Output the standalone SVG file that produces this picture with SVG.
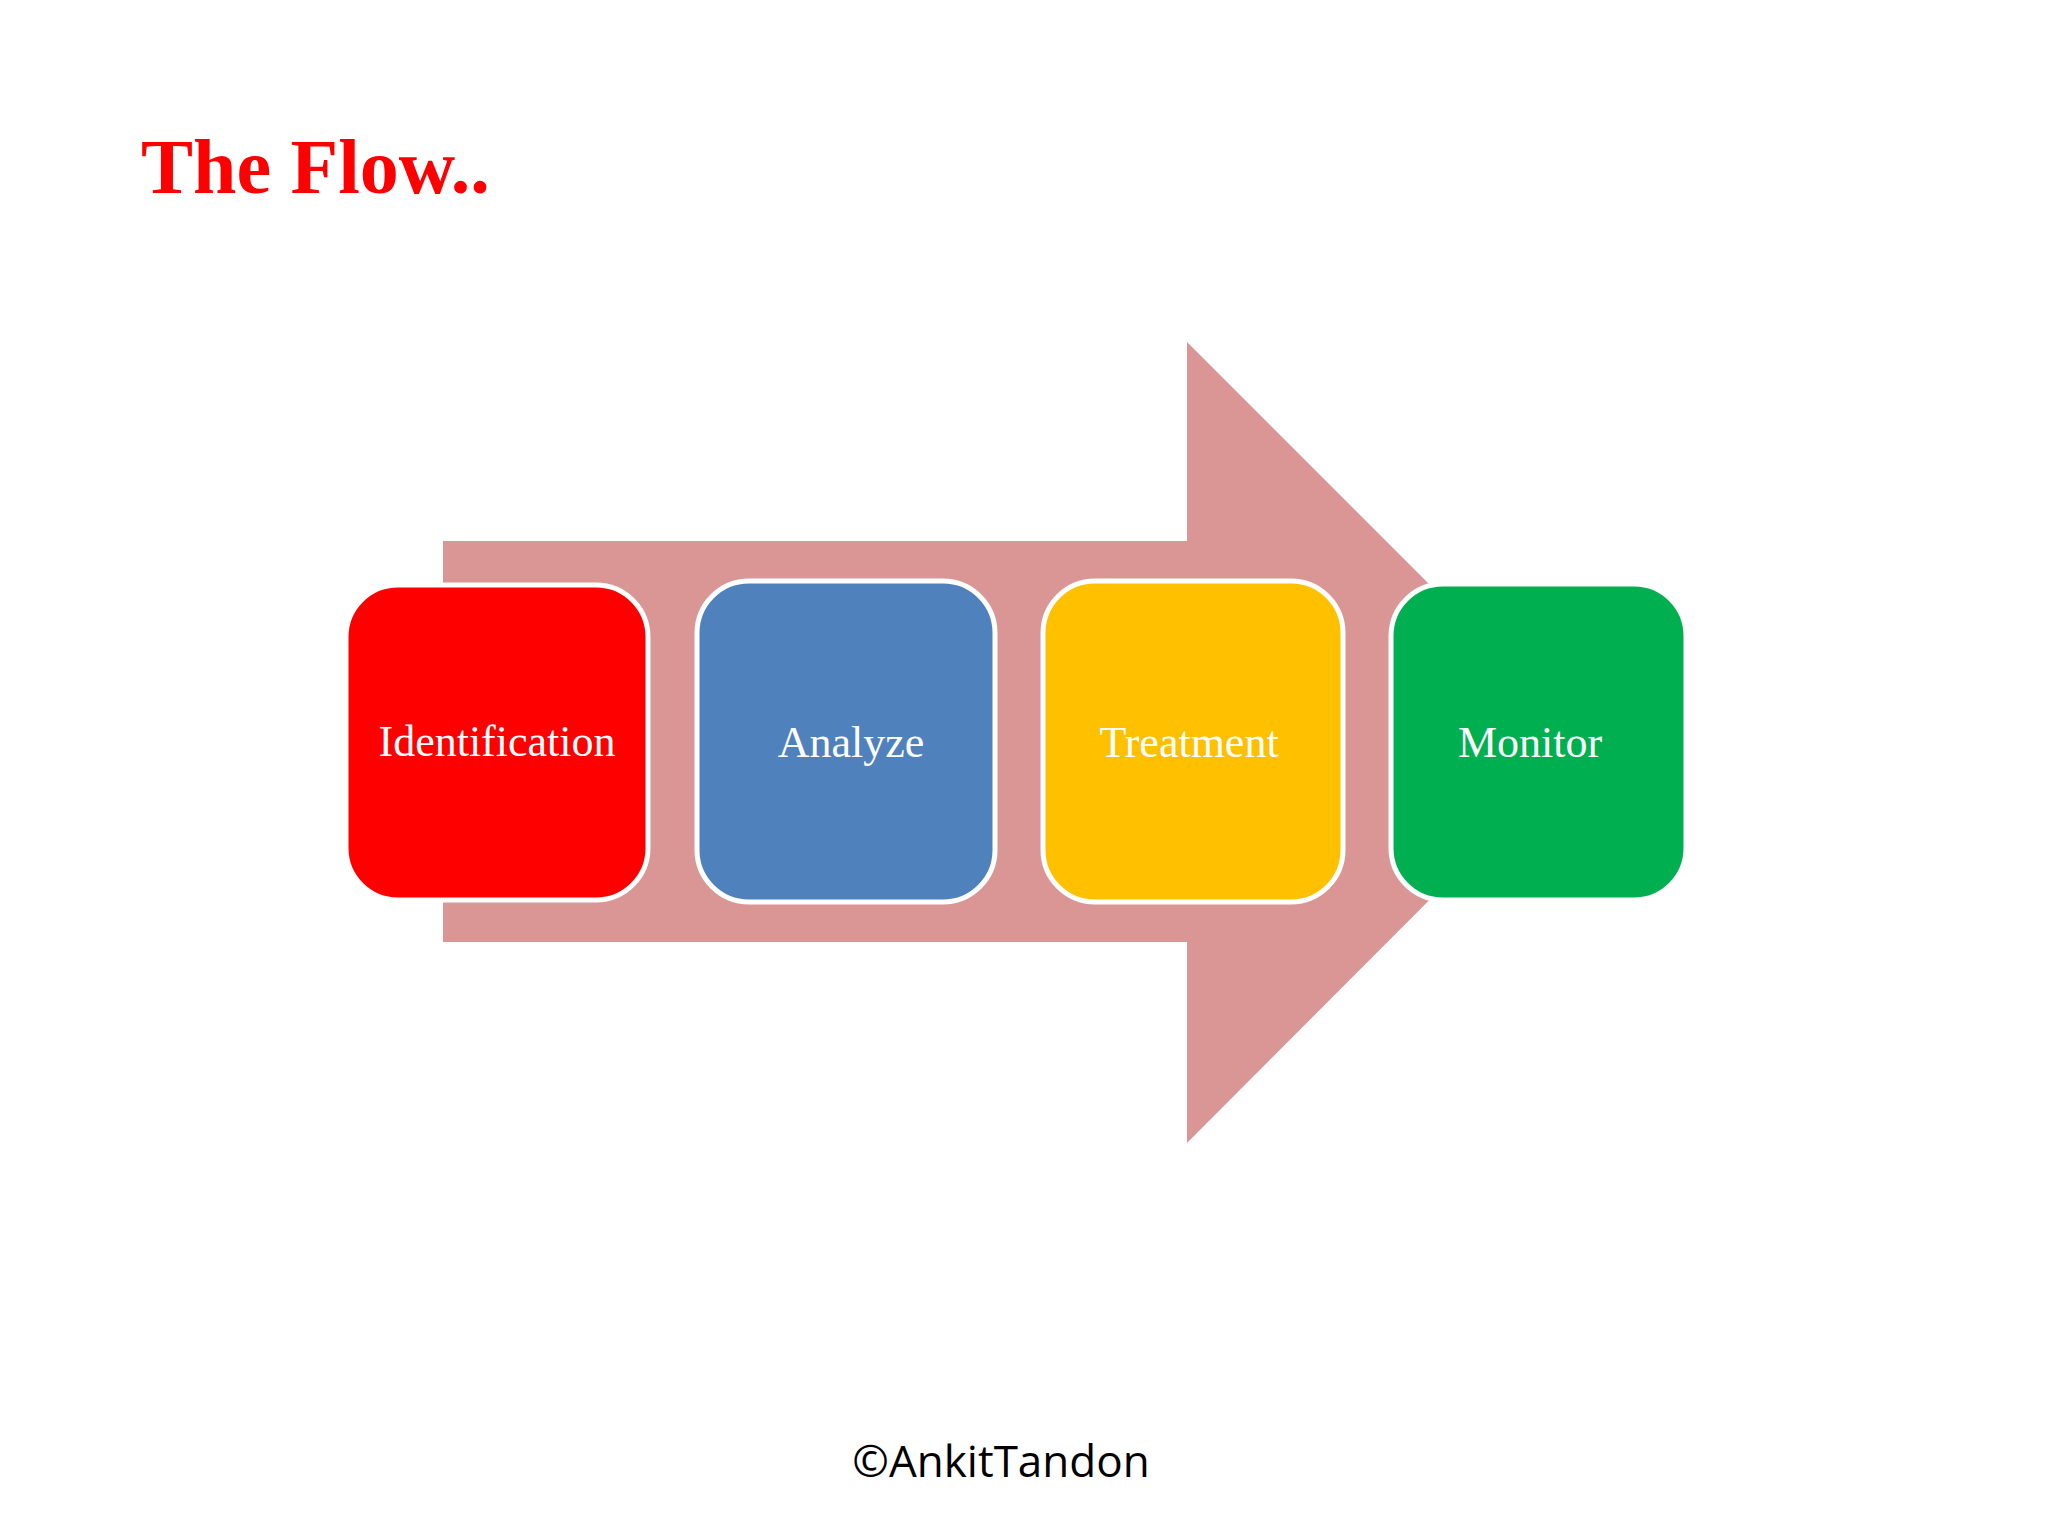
<svg xmlns="http://www.w3.org/2000/svg" width="2048" height="1536" viewBox="0 0 2048 1536">
<style>
.box{stroke:#fff;stroke-width:5}
.lbl{font-family:"Liberation Serif",serif;font-size:44px;fill:#fff;text-anchor:middle}
</style>
<rect width="2048" height="1536" fill="#fff"/>
<text x="141" y="193" font-family="Liberation Serif,serif" font-weight="bold" font-size="78" fill="#ff0000">The Flow..</text>
<g id="connectors">
<polygon points="443,541 1187,541 1187,342 1587,742 1187,1143 1187,942 443,942" fill="#d99694"/>
</g>
<g id="identification"><rect class="box" x="346" y="585" width="302" height="315" rx="52" fill="#ff0000"/><text class="lbl" x="497" y="756">Identification</text></g>
<g id="analyze"><rect class="box" x="697" y="581" width="298" height="321" rx="52" fill="#4f81bd"/><text class="lbl" x="851" y="757">Analyze</text></g>
<g id="treatment"><rect class="box" x="1043" y="581" width="300" height="321" rx="52" fill="#ffc000"/><text class="lbl" x="1189" y="757">Treatment</text></g>
<g id="monitor"><rect class="box" x="1391" y="584" width="295" height="316" rx="52" fill="#00b050"/><text class="lbl" x="1530" y="757">Monitor</text></g>
<text x="1001" y="1477" font-family="Open Sans,sans-serif" font-size="44" fill="#000" text-anchor="middle">©AnkitTandon</text>
</svg>
